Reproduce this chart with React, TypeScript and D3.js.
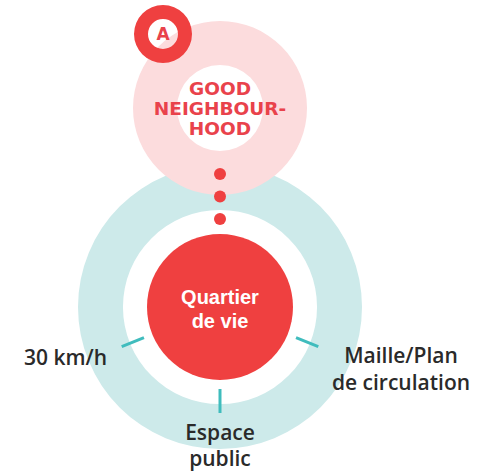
import React from "react";
import * as d3 from "d3";

const W = 486;
const H = 472;

// Main diagram elements
const centerLabel = ["Quartier", "de vie"];
const topLabel = ["GOOD", "NEIGHBOUR-", "HOOD"];
const badgeLabel = "A";
const spokeAngles = [158, 90, 22]; // degrees, y-down
const spokeLabels = [["30 km/h"], ["Espace", "public"], ["Maille/Plan", "de circulation"]];
const dotOffsets = [0, 1, 2];

const RED = "#ef4040";
const TEAL_LIGHT = "#cdeaea";
const TEAL = "#3fbcbd";
const PINK = "#fcdcdd";
const TEXT_RED = "#e9424b";
const DARK = "#2a2a2a";

export default function App() {
  const cx = 220;
  const cy = 307;
  const rad = d3.scaleLinear().domain([0, 1]).range([0, 1]);
  const arcGen = d3.arc();
  const tealArc = arcGen({ innerRadius: 97, outerRadius: 142, startAngle: 0, endAngle: 2 * Math.PI }) || "";
  const pinkArc = arcGen({ innerRadius: 43, outerRadius: 87, startAngle: 0, endAngle: 2 * Math.PI }) || "";
  const badgeArc = arcGen({ innerRadius: 15, outerRadius: 29, startAngle: 0, endAngle: 2 * Math.PI }) || "";
  const dotY = d3.scaleLinear().domain([0, 2]).range([174, 219]);

  const labelPos = [
    { x: 107, y: 357, anchor: "end" },
    { x: 220, y: 432, anchor: "middle" },
    { x: 401, y: 355, anchor: "middle" },
  ];
  const lineH = [0, 26.5, 27];

  return (
    <svg width={W} height={H} style={{ position: "absolute", left: 0, top: 0 }}>
      <rect width={W} height={H} fill="#ffffff" />
      <path d={tealArc} transform={`translate(${cx},${cy})`} fill={TEAL_LIGHT} />
      <path d={pinkArc} transform={`translate(220,108)`} fill={PINK} />
      <circle cx={cx} cy={cy} r={73} fill={RED} />
      {dotOffsets.map((d) => (
        <circle key={d} cx={220} cy={dotY(d)} r={6} fill={RED} />
      ))}
      <path d={badgeArc} transform={`translate(163,34)`} fill={RED} />
      <text x={163} y={34} dy="0.36em" textAnchor="middle" fontFamily="DejaVu Sans" fontWeight={700} fontSize={17} fill={TEXT_RED}>
        {badgeLabel}
      </text>
      {topLabel.map((t, i) => (
        <text key={t} x={220} y={88 + i * 20} dy="0.36em" textAnchor="middle" fontFamily="DejaVu Sans" fontWeight={700} fontSize={18.5} fill={TEXT_RED}>
          {t}
        </text>
      ))}
      {centerLabel.map((t, i) => (
        <text key={t} x={220} y={297 + i * 24} dy="0.36em" textAnchor="middle" fontFamily="Liberation Sans" fontWeight={700} fontSize={20} fill="#ffffff">
          {t}
        </text>
      ))}
      {spokeAngles.map((a, i) => {
        const th = (a * Math.PI) / 180;
        const r0 = rad(82);
        const r1 = rad(106);
        return (
          <line
            key={a}
            x1={cx + r0 * Math.cos(th)}
            y1={cy + r0 * Math.sin(th)}
            x2={cx + r1 * Math.cos(th)}
            y2={cy + r1 * Math.sin(th)}
            stroke={TEAL}
            strokeWidth={3}
          />
        );
      })}
      {spokeLabels.map((lines, i) =>
        lines.map((t, j) => (
          <text
            key={t}
            x={labelPos[i].x}
            y={labelPos[i].y + j * lineH[i]}
            dy="0.36em"
            textAnchor={labelPos[i].anchor}
            fontFamily="Open Sans"
            fontWeight={600}
            fontSize={21}
            fill={DARK}
          >
            {t}
          </text>
        ))
      )}
    </svg>
  );
}
